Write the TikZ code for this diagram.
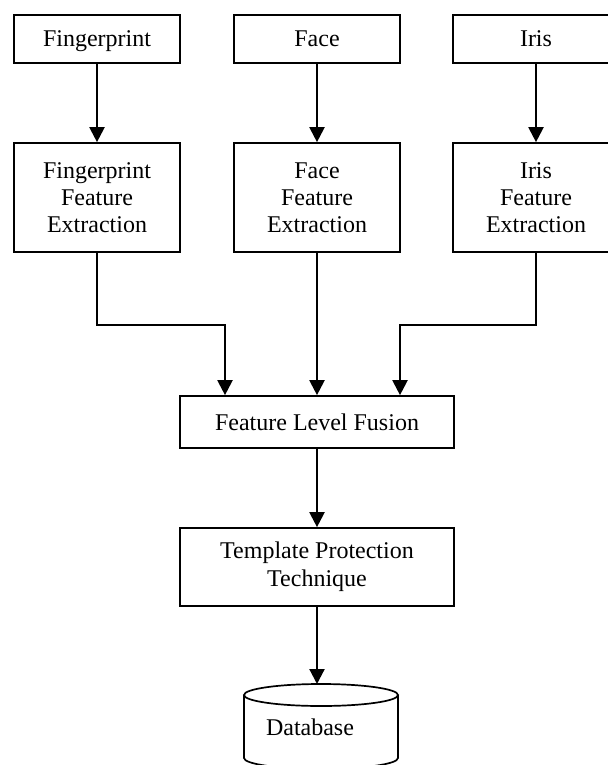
\documentclass[tikz,border=0pt]{standalone}
\usepackage{fontspec}
\setmainfont{Liberation Serif}
\usetikzlibrary{arrows.meta}
\begin{document}
\begin{tikzpicture}[
    x=0.5pt, y=-0.5pt,
    b/.style ={
        draw=black,
        line width=0.85pt,
        inner sep=0pt,
        align=center,
        font=\fontsize{12}{13.6}\selectfont
    },
    src/.style ={b, minimum width=83pt, minimum height=24pt, text height=8pt, text depth=0pt},
    fe/.style ={b, minimum width=83pt, minimum height=54.5pt},
    wide/.style ={b, minimum width=137pt},
    a/.style ={-{Triangle[length=7.5pt,width=7.5pt]}, line width=1.1pt}
    ]
    \clip (0,0) rectangle (608,765);

    \foreach \x/ \pos/ \txt in {{Fp/(97,39)/Fingerprint}, {Fc/(317,39)/Face}, {Ir/(536,39)/Iris}}
        \node[src] (\x) at \pos {\txt};

    \foreach \x/ \pos/ \txt in {{FpF/(97,197.5)/Fingerprint}, {FcF/(317,197.5)/Face}, {IrF/(536,197.5)/Iris}}
        \node[fe] (\x) at \pos {\txt\\Feature\\Extraction};

    \node[wide, minimum height=26pt] (fus) at (317,422) {Feature Level Fusion};
    \node[wide, minimum height=39pt, font=\fontsize{12}{14}\selectfont] (tpt) at (317,567) {Template Protection\\Technique};

    % database drum, bottom runs off the page
    \coordinate (dbtop) at (321,684);
    \draw[line width=0.85pt] (321,695) ellipse [x radius=77, y radius=11];
    \draw[line width=0.85pt] (244,695) -- (244,758) arc[start angle=180, end angle=0, x radius=77, y radius=11] -- (398,695);
    \node[inner sep=0pt, font=\fontsize{12}{14}\selectfont] (db) at (310,727) {Database};

    \foreach \src/ \dst in {Fp/FpF, Fc/FcF, Ir/IrF, FcF/fus, fus/tpt}
        \draw[a] (\src) -- (\dst);

    \draw[a] (FpF.south) -- ++(0,72) -| ([xshift=-46pt]fus.north);
    \draw[a] (IrF.south) -- ++(0,72) -| ([xshift=41.5pt]fus.north);
    \draw[a] (tpt) -- (tpt.south |- dbtop);

\end{tikzpicture}
\end{document}
